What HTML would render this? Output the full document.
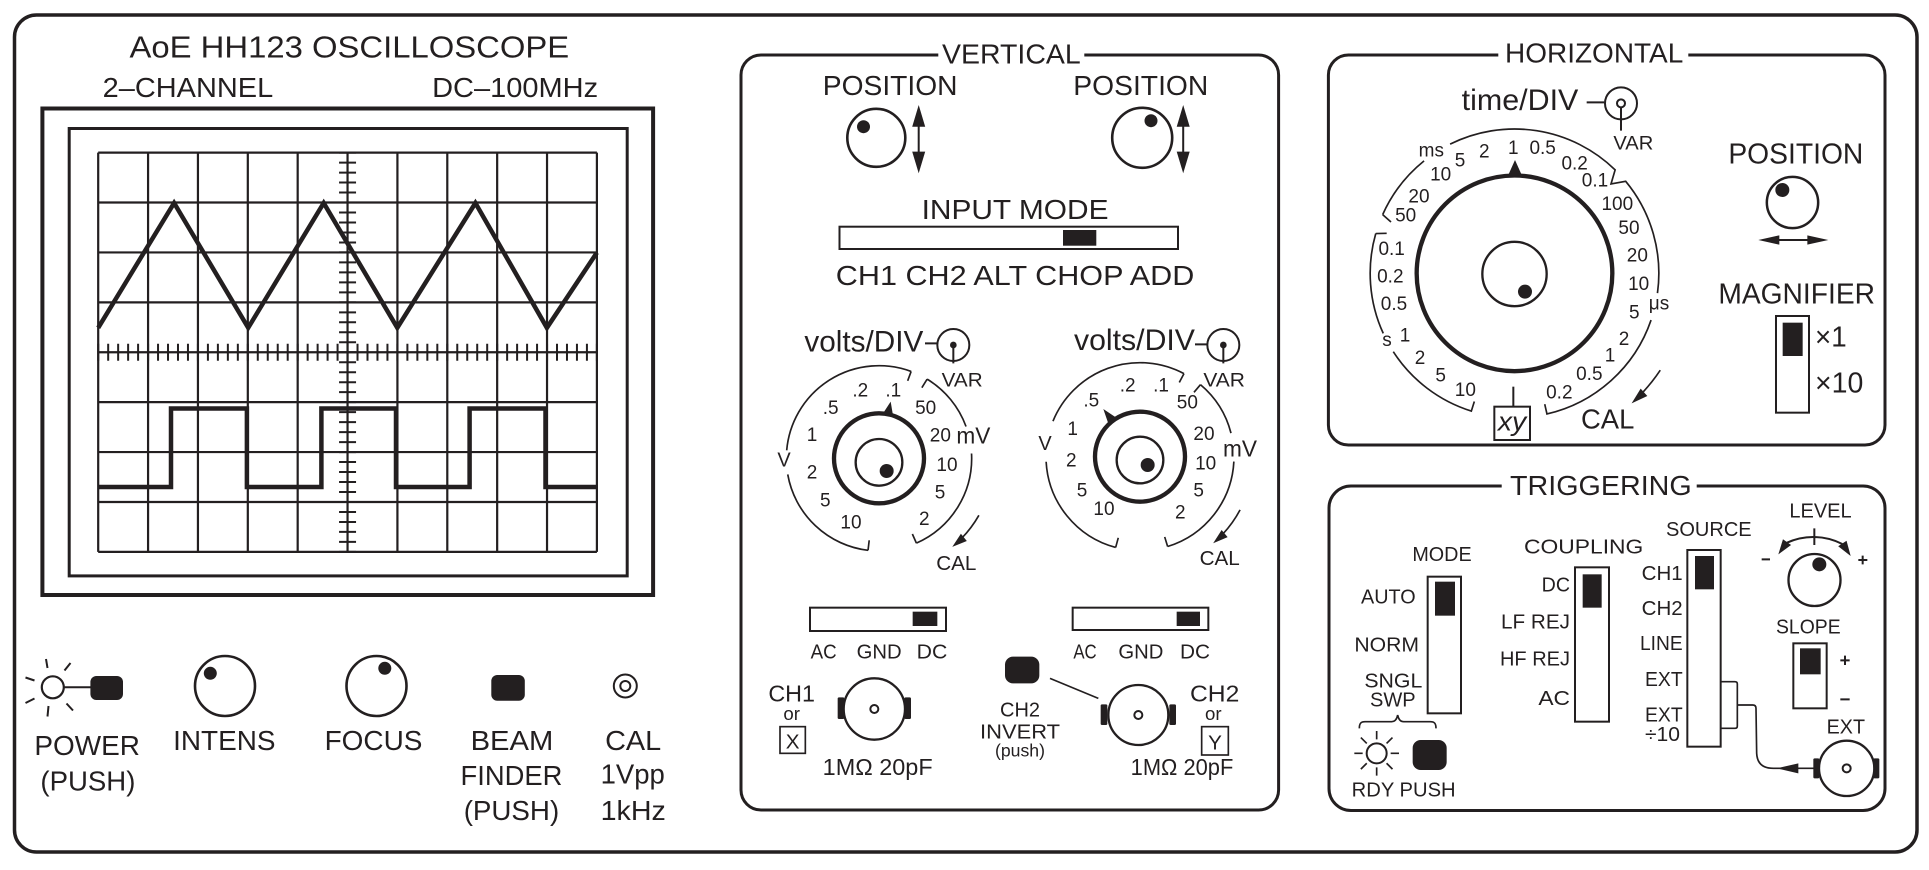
<!DOCTYPE html>
<html><head><meta charset="utf-8"><style>
html,body{margin:0;padding:0;background:#fff;overflow:hidden}
svg{display:block}
.s{fill:none;stroke:#231f20}
.f{fill:#231f20;stroke:none}
text{fill:#231f20;font-family:"Liberation Sans",Arial,sans-serif}
.m{text-anchor:middle}
</style></head><body>
<svg width="1929" height="870" viewBox="0 0 1929 870" xmlns="http://www.w3.org/2000/svg">
<rect x="0" y="0" width="1929" height="870" fill="#fff"/>
<rect class="s" x="14.5" y="15" width="1902.5" height="837" rx="22" stroke-width="3.5"/>

<!-- ============ SCREEN ============ -->
<text x="129.5" y="57.4" font-size="31" textLength="439.7" lengthAdjust="spacingAndGlyphs">AoE HH123 OSCILLOSCOPE</text>
<text x="102.7" y="97" font-size="28" textLength="170.5" lengthAdjust="spacingAndGlyphs">2–CHANNEL</text>
<text x="432.1" y="97" font-size="28" textLength="166" lengthAdjust="spacingAndGlyphs">DC–100MHz</text>
<rect class="s" x="42.4" y="108.5" width="610.7" height="486.5" stroke-width="4"/>
<rect class="s" x="69.2" y="128.5" width="558" height="447.4" stroke-width="3"/>
<path class="s" stroke-width="2.2" d="M98.2,152.6V551.9M148.07,152.6V551.9M197.94,152.6V551.9M247.81,152.6V551.9M297.68,152.6V551.9M347.55,152.6V551.9M397.42,152.6V551.9M447.29,152.6V551.9M497.16,152.6V551.9M547.03,152.6V551.9M596.9,152.6V551.9
M98.2,152.6H596.9M98.2,202.51H596.9M98.2,252.43H596.9M98.2,302.34H596.9M98.2,352.25H596.9M98.2,402.16H596.9M98.2,452.08H596.9M98.2,501.99H596.9M98.2,551.9H596.9"/>
<line x1="347.55" y1="151.6" x2="347.55" y2="552.9" stroke="#231f20" stroke-width="17" stroke-dasharray="2 7.9825"/>
<line x1="97.2" y1="352.25" x2="597.9" y2="352.25" stroke="#231f20" stroke-width="17" stroke-dasharray="2 7.974"/>
<polyline class="s" stroke-width="4.5" stroke-linejoin="miter" points="98.2,327.8 174.1,203 248.2,327.8 323.7,203 397.3,327.8 475.4,203 546.9,327.8 596.9,252.6"/>
<polyline class="s" stroke-width="4.5" points="98.2,487 171,487 171,408.5 246.9,408.5 246.9,487 321.4,487 321.4,408.5 396,408.5 396,487 469.6,487 469.6,408.5 545.5,408.5 545.5,487 596.9,487"/>

<!-- ============ BOTTOM LEFT CONTROLS ============ -->
<circle class="s" cx="52.8" cy="687.3" r="11" stroke-width="2.2" fill="#fff"/>
<path class="s" stroke-width="2" d="M46,659L47.5,668M64.5,670.5L70.5,663M25.5,677.5L34.5,680.5M25.5,703L34.5,698.5M48.5,706L47.5,716.5M66.5,703.5L73,710.5M63.8,687.3H91"/>
<rect class="f" x="90.4" y="676" width="32.6" height="24" rx="6"/>
<circle class="s" cx="225" cy="686" r="30" stroke-width="2.6"/>
<circle class="f" cx="210.3" cy="673.3" r="6.5"/>
<circle class="s" cx="376.5" cy="686" r="30" stroke-width="2.6"/>
<circle class="f" cx="384.8" cy="668.3" r="6.5"/>
<rect class="f" x="491.3" y="675" width="33.5" height="25.7" rx="6"/>
<circle class="s" cx="625.3" cy="686" r="11.5" stroke-width="2"/>
<circle class="s" cx="625.3" cy="686" r="5" stroke-width="2"/>
<text x="34.4" y="755" font-size="28" textLength="105.6" lengthAdjust="spacingAndGlyphs">POWER</text>
<text x="40.4" y="790.7" font-size="28" textLength="95" lengthAdjust="spacingAndGlyphs">(PUSH)</text>
<text x="173.1" y="750" font-size="28" textLength="102.4" lengthAdjust="spacingAndGlyphs">INTENS</text>
<text x="324.6" y="750" font-size="28" textLength="97.8" lengthAdjust="spacingAndGlyphs">FOCUS</text>
<text x="470.6" y="750" font-size="28" textLength="82.7" lengthAdjust="spacingAndGlyphs">BEAM</text>
<text x="460.5" y="785" font-size="28" textLength="101.9" lengthAdjust="spacingAndGlyphs">FINDER</text>
<text x="463.7" y="820" font-size="28" textLength="95.5" lengthAdjust="spacingAndGlyphs">(PUSH)</text>
<text x="605.1" y="750" font-size="28" textLength="56.1" lengthAdjust="spacingAndGlyphs">CAL</text>
<text x="600.6" y="783.3" font-size="28" textLength="64.2" lengthAdjust="spacingAndGlyphs">1Vpp</text>
<text x="600.6" y="820" font-size="28" textLength="65.2" lengthAdjust="spacingAndGlyphs">1kHz</text>

<!-- ============ VERTICAL ============ -->
<rect class="s" x="741" y="55" width="537.6" height="755" rx="20" stroke-width="3"/>
<rect x="938.3" y="45" width="146" height="20" fill="#fff"/>
<text x="942" y="63.3" font-size="28" textLength="138.7" lengthAdjust="spacingAndGlyphs">VERTICAL</text>
<text x="822.8" y="95" font-size="28" textLength="134.7" lengthAdjust="spacingAndGlyphs">POSITION</text>
<text x="1073.3" y="95" font-size="28" textLength="135" lengthAdjust="spacingAndGlyphs">POSITION</text>
<circle class="s" cx="876.3" cy="137.8" r="29" stroke-width="2.6"/>
<circle class="f" cx="863.5" cy="126.7" r="6.5"/>
<line x1="918.7" y1="120" x2="918.7" y2="158" stroke="#231f20" stroke-width="2"/>
<polygon class="f" points="918.7,105 912.2,126.7 925.2,126.7"/>
<polygon class="f" points="918.7,173.3 912.2,151.6 925.2,151.6"/>
<circle class="s" cx="1142.2" cy="137.8" r="30" stroke-width="2.6"/>
<circle class="f" cx="1151" cy="120.7" r="6.5"/>
<line x1="1183.2" y1="120" x2="1183.2" y2="158" stroke="#231f20" stroke-width="2"/>
<polygon class="f" points="1183.2,105 1176.7,126.7 1189.7,126.7"/>
<polygon class="f" points="1183.2,173.3 1176.7,151.6 1189.7,151.6"/>
<text x="921.6" y="219" font-size="28" textLength="186.9" lengthAdjust="spacingAndGlyphs">INPUT  MODE</text>
<rect class="s" x="839.5" y="226.7" width="338.5" height="22.3" stroke-width="2"/>
<rect class="f" x="1063" y="230" width="33.3" height="15.7"/>
<text x="835.8" y="285" font-size="28" textLength="358.5" lengthAdjust="spacingAndGlyphs">CH1 CH2 ALT CHOP ADD</text>

<!-- CH1 volts/div (zoom4 frame) -->
<g transform="translate(740,310) scale(0.333333)">
<text x="193" y="125" font-size="90" textLength="357" lengthAdjust="spacingAndGlyphs">volts/DIV</text>
<path class="s" stroke-width="6" d="M555,100H592M640,105V160"/>
<circle class="s" cx="640" cy="105" r="48" stroke-width="6"/>
<circle class="f" cx="640" cy="105" r="10"/>
<text x="605" y="230" font-size="58" textLength="123" lengthAdjust="spacingAndGlyphs">VAR</text>
<circle class="s" cx="417" cy="445" r="135" stroke-width="13"/>
<circle class="s" cx="417" cy="457" r="70" stroke-width="7"/>
<circle class="f" cx="440" cy="483" r="21"/>
<polygon class="f" points="452,275 459.8,321 426.4,314.2"/>
<path class="s" stroke-width="5" d="M513.4,184.3A278,278 0 0 0 140.1,420.8M143.2,493.3A278,278 0 0 0 384.1,721M561.4,207.4A278,278 0 0 1 678.1,349.5M694.6,430.5A278,278 0 0 1 529.2,699.4M513.4,184.3L503,212.4M384.1,721L387.6,691M561.4,207.4L545.6,232.9M529.2,699.4L517.1,672M716.7,615.9A345,345 0 0 1 665.2,684.7"/>
<polygon class="f" points="636.9,710.8 680.5,692.9 662.7,671.3"/>
<g font-size="57" class="m">
<text class="m" x="460" y="260">.1</text>
<text class="m" x="361" y="260">.2</text>
<text class="m" x="272" y="312">.5</text>
<text class="m" x="216" y="393">1</text>
<text class="m" x="132" y="470" font-size="60">V</text>
<text class="m" x="216" y="505">2</text>
<text class="m" x="256" y="590">5</text>
<text class="m" x="333" y="655">10</text>
<text class="m" x="557" y="312">50</text>
<text class="m" x="601" y="395">20</text>
<text class="m" x="700" y="400" font-size="68">mV</text>
<text class="m" x="621" y="483">10</text>
<text class="m" x="600" y="565">5</text>
<text class="m" x="553" y="645">2</text>
<text class="m" x="649" y="780" font-size="62">CAL</text>
</g>
<rect class="s" x="210" y="893" width="408" height="70" stroke-width="6"/>
<rect class="f" x="518" y="905" width="74" height="43"/>
<text x="212" y="1045" font-size="60" textLength="78" lengthAdjust="spacingAndGlyphs">AC</text>
<text x="350" y="1045" font-size="60" textLength="135" lengthAdjust="spacingAndGlyphs">GND</text>
<text x="530" y="1045" font-size="60" textLength="92" lengthAdjust="spacingAndGlyphs">DC</text>
<text x="85" y="1175" font-size="68" textLength="140" lengthAdjust="spacingAndGlyphs">CH1</text>
<text class="m" x="155" y="1230" font-size="56">or</text>
<rect class="s" x="120" y="1250" width="76" height="80" stroke-width="5"/>
<text class="m" x="158" y="1315" font-size="62">X</text>
<circle class="s" cx="403" cy="1197" r="92" stroke-width="7"/>
<circle class="s" cx="403" cy="1197" r="12" stroke-width="6"/>
<rect class="f" x="293" y="1162" width="20" height="65" rx="4"/>
<rect class="f" x="493" y="1162" width="20" height="65" rx="4"/>
<text x="248" y="1395" font-size="68" textLength="330" lengthAdjust="spacingAndGlyphs">1MΩ 20pF</text>
</g>

<!-- CH2 volts/div (zoom5 frame) -->
<g transform="translate(1000,310) scale(0.333333)">
<text x="222" y="120" font-size="90" textLength="363" lengthAdjust="spacingAndGlyphs">volts/DIV</text>
<path class="s" stroke-width="6" d="M585,103H622M670,105V160"/>
<circle class="s" cx="670" cy="105" r="48" stroke-width="6"/>
<circle class="f" cx="670" cy="105" r="10"/>
<text x="610" y="230" font-size="58" textLength="125" lengthAdjust="spacingAndGlyphs">VAR</text>
<circle class="s" cx="420" cy="440" r="135" stroke-width="13"/>
<circle class="s" cx="420" cy="450" r="70" stroke-width="7"/>
<circle class="f" cx="443" cy="465" r="21"/>
<polygon class="f" points="310,297 354.2,326.5 327.2,347.3"/>
<path class="s" stroke-width="5" d="M551.9,190.8A282,282 0 0 0 158.9,333.5M138.4,455.3A282,282 0 0 0 347,712.4M601.3,224A282,282 0 0 1 693,369.4M701.6,454.8A282,282 0 0 1 502.9,709.5M551.9,190.8L537.9,217.3M347,712.4L354.8,683.4M601.3,224L582,247M502.9,709.5L494.1,680.8M720.2,599.6A340,340 0 0 1 668.7,671.9"/>
<polygon class="f" points="639.5,699.7 682.9,681.4 664.9,660"/>
<g font-size="57">
<text class="m" x="383" y="245">.2</text>
<text class="m" x="483" y="245">.1</text>
<text class="m" x="274" y="290">.5</text>
<text class="m" x="562" y="295">50</text>
<text class="m" x="218" y="375">1</text>
<text class="m" x="135" y="420" font-size="60">V</text>
<text class="m" x="612" y="390">20</text>
<text class="m" x="720" y="440" font-size="68">mV</text>
<text class="m" x="214" y="470">2</text>
<text class="m" x="617" y="478">10</text>
<text class="m" x="246" y="560">5</text>
<text class="m" x="596" y="560">5</text>
<text class="m" x="312" y="615">10</text>
<text class="m" x="541" y="625">2</text>
<text class="m" x="659" y="765" font-size="62">CAL</text>
</g>
<rect class="s" x="218" y="893" width="407" height="67" stroke-width="6"/>
<rect class="f" x="530" y="905" width="70" height="43"/>
<text x="220" y="1045" font-size="60" textLength="70" lengthAdjust="spacingAndGlyphs">AC</text>
<text x="355" y="1045" font-size="60" textLength="135" lengthAdjust="spacingAndGlyphs">GND</text>
<text x="540" y="1045" font-size="60" textLength="90" lengthAdjust="spacingAndGlyphs">DC</text>
<rect class="f" x="15" y="1040" width="103" height="80" rx="24"/>
<line x1="150" y1="1105" x2="295" y2="1165" stroke="#231f20" stroke-width="5"/>
<text class="m" x="60" y="1220" font-size="60" textLength="120" lengthAdjust="spacingAndGlyphs">CH2</text>
<text class="m" x="60" y="1285" font-size="60" textLength="240" lengthAdjust="spacingAndGlyphs">INVERT</text>
<text class="m" x="60" y="1340" font-size="54" textLength="150" lengthAdjust="spacingAndGlyphs">(push)</text>
<circle class="s" cx="415" cy="1215" r="90" stroke-width="7"/>
<circle class="s" cx="415" cy="1215" r="12" stroke-width="6"/>
<rect class="f" x="302" y="1183" width="20" height="62" rx="4"/>
<rect class="f" x="508" y="1183" width="20" height="62" rx="4"/>
<text x="570" y="1175" font-size="68" textLength="148" lengthAdjust="spacingAndGlyphs">CH2</text>
<text class="m" x="640" y="1230" font-size="56">or</text>
<rect class="s" x="605" y="1250" width="80" height="85" stroke-width="5"/>
<text class="m" x="645" y="1318" font-size="62">Y</text>
<text x="392" y="1395" font-size="68" textLength="308" lengthAdjust="spacingAndGlyphs">1MΩ 20pF</text>
</g>

<!-- ============ HORIZONTAL ============ -->
<rect class="s" x="1328.4" y="55" width="556.6" height="390" rx="20" stroke-width="3"/>
<rect x="1498.3" y="45" width="190" height="20" fill="#fff"/>
<text x="1505" y="62.7" font-size="28" textLength="178.3" lengthAdjust="spacingAndGlyphs">HORIZONTAL</text>
<g transform="translate(1325,40) scale(0.333333)">
<text x="410" y="210" font-size="88" textLength="350" lengthAdjust="spacingAndGlyphs">time/DIV</text>
<path class="s" stroke-width="6" d="M785,187H838M888,202V272"/>
<circle class="s" cx="888" cy="190" r="48" stroke-width="6"/>
<circle cx="888" cy="190" r="12" fill="#fff" stroke="#231f20" stroke-width="6"/>
<text x="865" y="328" font-size="58" textLength="120" lengthAdjust="spacingAndGlyphs">VAR</text>
<circle class="s" cx="568.5" cy="700" r="293.5" stroke-width="13"/>
<circle class="s" cx="568.5" cy="702" r="96.5" stroke-width="7"/>
<circle class="f" cx="600" cy="755" r="21"/>
<polygon class="f" points="570,360 548,409 592,409"/>
<rect class="s" x="508" y="1100" width="107" height="100" stroke-width="6"/>
<line x1="565" y1="1040" x2="565" y2="1100" stroke="#231f20" stroke-width="6"/>
<text class="m" x="561" y="1172" font-size="80" font-style="italic" textLength="85" lengthAdjust="spacingAndGlyphs">xy</text>
<path class="s" stroke-width="5" d="M173,523.9A433,433 0 0 1 297.2,362.6M375.3,312.5A433,433 0 0 1 870.4,389.6L858,432L902.1,424A433,433 0 0 1 997.4,759.5M978.2,840.2A433,433 0 0 1 665.9,1121.9L659.2,1092.7M152.3,580.6A433,433 0 0 0 174.8,880.2M204.9,935.2A433,433 0 0 0 439,1113.2L448,1084.6M152.3,580.6L185,580M173,523.9L198,546M1005.8,990.5A525,525 0 0 1 954.9,1055.4"/>
<polygon class="f" points="919.8,1090.2 967,1067.9 947,1045.7"/>
<g font-size="57">
<text class="m" x="319" y="350">ms</text>
<text class="m" x="405" y="380">5</text>
<text class="m" x="478" y="352">2</text>
<text class="m" x="565" y="342">1</text>
<text class="m" x="653" y="342">0.5</text>
<text class="m" x="749" y="388">0.2</text>
<text class="m" x="810" y="440">0.1</text>
<text class="m" x="347" y="422">10</text>
<text class="m" x="282" y="488">20</text>
<text class="m" x="242" y="545">50</text>
<text class="m" x="877" y="510">100</text>
<text class="m" x="912" y="582">50</text>
<text class="m" x="937" y="665">20</text>
<text class="m" x="941" y="750">10</text>
<text class="m" x="928" y="835">5</text>
<text class="m" x="1002" y="808">μs</text>
<text class="m" x="897" y="915">2</text>
<text class="m" x="855" y="965">1</text>
<text class="m" x="793" y="1020">0.5</text>
<text class="m" x="703" y="1075">0.2</text>
<text class="m" x="200" y="645">0.1</text>
<text class="m" x="196" y="728">0.2</text>
<text class="m" x="207" y="810">0.5</text>
<text class="m" x="186" y="918">s</text>
<text class="m" x="240" y="905">1</text>
<text class="m" x="285" y="972">2</text>
<text class="m" x="347" y="1025">5</text>
<text class="m" x="421" y="1068">10</text>
</g>
<text x="768" y="1165" font-size="82" textLength="160" lengthAdjust="spacingAndGlyphs">CAL</text>
</g>
<g transform="translate(1700,40) scale(0.333333)">
<text x="85" y="370" font-size="85" textLength="405" lengthAdjust="spacingAndGlyphs">POSITION</text>
<circle class="s" cx="277.5" cy="487.5" r="77" stroke-width="7.5"/>
<circle class="f" cx="247" cy="450" r="21"/>
<line x1="220" y1="600" x2="340" y2="600" stroke="#231f20" stroke-width="6"/>
<polygon class="f" points="175,600 238,586 238,614"/>
<polygon class="f" points="385,600 322,586 322,614"/>
<text x="55" y="790" font-size="85" textLength="470" lengthAdjust="spacingAndGlyphs">MAGNIFIER</text>
<rect class="s" x="228" y="828" width="99" height="290" stroke-width="6"/>
<rect class="f" x="248" y="848" width="60" height="100"/>
<text x="345" y="920" font-size="85" textLength="95" lengthAdjust="spacingAndGlyphs">×1</text>
<text x="345" y="1058" font-size="85" textLength="145" lengthAdjust="spacingAndGlyphs">×10</text>
</g>

<!-- ============ TRIGGERING ============ -->
<rect class="s" x="1329" y="486" width="556" height="324.5" rx="22" stroke-width="3"/>
<rect x="1501.7" y="475" width="195" height="22" fill="#fff"/>
<text x="1510" y="495" font-size="28" textLength="181.7" lengthAdjust="spacingAndGlyphs">TRIGGERING</text>
<g transform="translate(1325,460) scale(0.333333)">
<text x="262" y="303" font-size="60" textLength="178" lengthAdjust="spacingAndGlyphs">MODE</text>
<rect class="s" x="308" y="350" width="100" height="410" stroke-width="6"/>
<rect class="f" x="330" y="365" width="60" height="102"/>
<text x="108" y="430" font-size="62" textLength="164" lengthAdjust="spacingAndGlyphs">AUTO</text>
<text x="88" y="575" font-size="62" textLength="194" lengthAdjust="spacingAndGlyphs">NORM</text>
<text x="118" y="683" font-size="62" textLength="174" lengthAdjust="spacingAndGlyphs">SNGL</text>
<text x="135" y="740" font-size="62" textLength="137" lengthAdjust="spacingAndGlyphs">SWP</text>
<path class="s" stroke-width="5" d="M103,805C103,790 108,785 120,785L200,785C212,785 216,775 218,765C220,775 224,785 236,785L316,785C328,785 333,790 333,805"/>
<circle class="s" cx="155" cy="880" r="30" stroke-width="6"/>
<path class="s" stroke-width="5" d="M197,880H222M113,880H88M155,838V813M155,922V947M184.7,850.3L202.4,832.6M125.3,850.3L107.6,832.6M184.7,909.7L202.4,927.4M125.3,909.7L107.6,927.4"/>
<rect class="f" x="263" y="840" width="102" height="90" rx="24"/>
<text x="80" y="1010" font-size="60" textLength="312" lengthAdjust="spacingAndGlyphs">RDY PUSH</text>
<text x="597" y="280" font-size="62" textLength="358" lengthAdjust="spacingAndGlyphs">COUPLING</text>
<rect class="s" x="750" y="322" width="102" height="463" stroke-width="6"/>
<rect class="f" x="773" y="343" width="57" height="100"/>
<text x="650" y="395" font-size="62" textLength="85" lengthAdjust="spacingAndGlyphs">DC</text>
<text x="528" y="505" font-size="62" textLength="207" lengthAdjust="spacingAndGlyphs">LF REJ</text>
<text x="525" y="617" font-size="62" textLength="210" lengthAdjust="spacingAndGlyphs">HF REJ</text>
<text x="640" y="735" font-size="62" textLength="95" lengthAdjust="spacingAndGlyphs">AC</text>
</g>
<g transform="translate(1630,460) scale(0.333333)">
<text x="108" y="228" font-size="60" textLength="257" lengthAdjust="spacingAndGlyphs">SOURCE</text>
<rect class="s" x="172" y="270" width="100" height="590" stroke-width="6"/>
<rect class="f" x="195" y="288" width="57" height="100"/>
<text x="35" y="360" font-size="60" textLength="123" lengthAdjust="spacingAndGlyphs">CH1</text>
<text x="35" y="465" font-size="60" textLength="123" lengthAdjust="spacingAndGlyphs">CH2</text>
<text x="30" y="570" font-size="60" textLength="128" lengthAdjust="spacingAndGlyphs">LINE</text>
<text x="45" y="678" font-size="60" textLength="113" lengthAdjust="spacingAndGlyphs">EXT</text>
<text x="45" y="785" font-size="60" textLength="113" lengthAdjust="spacingAndGlyphs">EXT</text>
<text x="45" y="843" font-size="60" textLength="105" lengthAdjust="spacingAndGlyphs">÷10</text>
<path class="s" stroke-width="5" d="M272,665H315Q322,665 322,672V798Q322,805 315,805H272M322,735H368Q378,735 378,745L380,880Q382,925 430,925H552"/>
<polygon class="f" points="440,925 505,910 505,940"/>
<circle class="s" cx="650" cy="925" r="83" stroke-width="7"/>
<circle class="s" cx="650" cy="925" r="12" stroke-width="6"/>
<rect class="f" x="550" y="895" width="18" height="60" rx="4"/>
<rect class="f" x="730" y="895" width="18" height="60" rx="4"/>
<text x="590" y="820" font-size="60" textLength="115" lengthAdjust="spacingAndGlyphs">EXT</text>
<text x="478" y="172" font-size="60" textLength="187" lengthAdjust="spacingAndGlyphs">LEVEL</text>
<circle class="s" cx="553.5" cy="360" r="78" stroke-width="7"/>
<circle class="f" cx="568" cy="313" r="21"/>
<path class="s" stroke-width="6" d="M471,248A190,190 0 0 1 637,252M553,205V255M395,298H420M685,300H712M698,287V313M631,601H659M645,587V615M631,718H659"/>
<polygon class="f" points="445,283 483.3,255 458.9,237.6"/>
<polygon class="f" points="662,288 649.6,242.2 624.6,258.8"/>
<text x="438" y="520" font-size="60" textLength="194" lengthAdjust="spacingAndGlyphs">SLOPE</text>
<rect class="s" x="490" y="550" width="100" height="195" stroke-width="6"/>
<rect class="f" x="510" y="565" width="62" height="78"/>
</g>
</svg>
</body></html>
